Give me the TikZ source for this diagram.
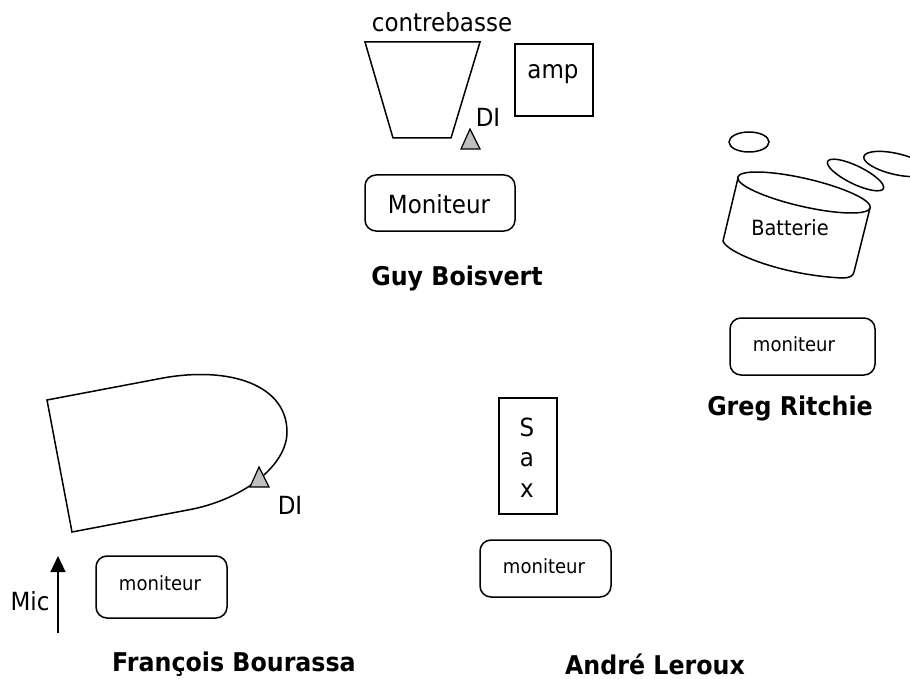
\documentclass[tikz,border=0pt]{standalone}
\usepackage{fontspec}
\setmainfont{DejaVu Sans}[FakeStretch=0.92]
\usetikzlibrary{arrows.meta}
\tikzset{
  outline/.style={draw=black,line width=1.5pt,line join=miter},
  monbox/.style={draw=black,line width=1.5pt,rounded corners=11pt},
  ditri/.style={draw=black,line width=1.2pt,fill=black!25},
  bigtext/.style={font=\fontsize{25}{28}\selectfont,inner sep=0pt},
  midtext/.style={font=\fontsize{19.6}{22}\selectfont,inner sep=0pt},
  battext/.style={font=\fontsize{21}{24}\selectfont,inner sep=0pt},
  persontext/.style={font=\fontsize{25.8}{28}\selectfont\bfseries,inner sep=0pt},
}
\begin{document}
\begin{tikzpicture}[x=1pt,y=-1pt]
\useasboundingbox[fill=white] (0,0) rectangle (910,679);
\clip (0,0) rectangle (910,679);
% contrebasse
\draw[outline] (365,42) -- (480,42) -- (451,138) -- (393,138) -- cycle;
\draw[outline] (515,44) rectangle (593,116);
\draw[ditri] (470,129) -- (480,149) -- (461,149) -- cycle;
\draw[monbox] (365,175) rectangle (515,231);
\node[bigtext] (cb) at (442,22) {contrebasse};
\node[bigtext] (amp) at (553,74) {amp};
\node[bigtext] (di1) at (488,117) {DI};
\node[bigtext] (mon1) at (439,204) {Moniteur};
\node[persontext] (guy) at (457,278) {Guy Boisvert};
% batterie
\draw[outline] (749,142) ellipse [x radius=20,y radius=10];
\draw[outline] (855.5,175) ellipse [x radius=31,y radius=9,rotate=-26];
\draw[outline] (896,164) ellipse [x radius=33,y radius=10.5,rotate=-13];
\draw[outline] (804,192.5) ellipse [x radius=68,y radius=14,rotate=-13];
\draw[outline] (738,178) -- (723,241) .. controls (726,252) and (780,275) .. (842,278) .. controls (850,278) and (853,276) .. (854,272) -- (870,208);
\node[battext] (bat) at (790,228) {Batterie};
\draw[monbox] (730,318) rectangle (875,375);
\node[midtext] (mon2) at (794,344) {moniteur};
\node[persontext] (greg) at (790,408) {Greg Ritchie};
% sax
\draw[outline] (499,398) rectangle (557,514);
\node[bigtext] (s) at (527,427) {S};
\node[bigtext] (a) at (527,460) {a};
\node[bigtext] (x) at (527,491) {x};
\draw[monbox] (480,540) rectangle (611,597);
\node[midtext] (mon3) at (544,566) {moniteur};
\node[persontext] (andre) at (655,664) {André Leroux};
% piano
\draw[outline] (47,400) -- (163,378) .. controls (230,366) and (287,385) .. (287,432) .. controls (287,465) and (245,498) .. (193,509) -- (72,532) -- cycle;
\draw[ditri] (259,467) -- (269,487) -- (250,487) -- cycle;
\node[bigtext] (di2) at (290,505) {DI};
\draw[monbox] (96,556) rectangle (227,618);
\node[midtext] (mon4) at (160,583) {moniteur};
\coordinate (micA) at (58,633);
\coordinate (micB) at (58,556);
\draw[line width=1.1pt,-{Triangle[width=15pt,length=16pt]}] (micA) -- (micB);
\node[bigtext] (mic) at (30,601) {Mic};
\node[persontext] (fb) at (234,664) {François Bourassa};
\end{tikzpicture}
\end{document}
